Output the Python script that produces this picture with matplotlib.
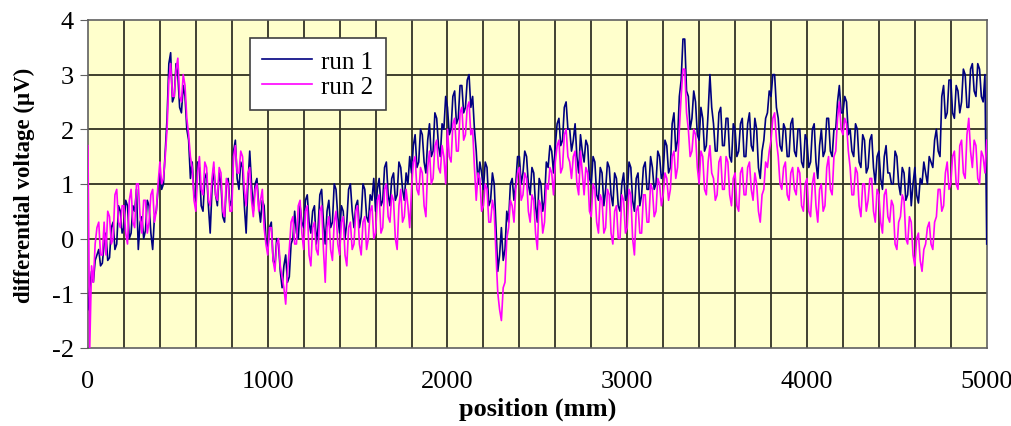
import matplotlib
matplotlib.use('Agg')
import matplotlib.pyplot as plt
import numpy as np

plt.rcParams['font.family'] = ['Liberation Serif', 'DejaVu Serif']
plt.rcParams['axes.unicode_minus'] = False

# DATA (one value every 10 mm, 100 mm per row)

position = np.arange(0, 5001, 10)

run1 = [
    -1.3, -0.9, -0.6, -0.8, -0.4, -0.3, -0.2, -0.5, -0.45, -0.1,
    0.1, -0.4, -0.35, 0.2, 0.3, -0.2, -0.1, 0.6, 0.5, 0.1,
    0.2, 0.7, 0.6, 0.0, 0.1, 0.6, 0.5, 0.9, -0.2, 0.3,
    0.4, 0.0, 0.15, 0.7, 0.6, 0.1, -0.2, 0.4, 0.5, 0.9,
    1.2, 0.9, 1.0, 1.6, 2.2, 3.2, 3.4, 2.5, 2.6, 3.2,
    3.0, 2.4, 2.3, 2.8, 2.6, 2.0, 1.8, 1.1, 1.4, 0.8,
    0.7, 1.4, 1.3, 0.6, 0.5, 1.1, 1.2, 0.6, 0.1, 0.9,
    1.3, 0.8, 0.6, 1.2, 1.0, 0.4, 0.3, 1.0, 1.1, 0.6,
    0.7, 1.6, 1.8, 1.1, 0.9, 1.4, 1.3, 0.6, 0.1, 1.0,
    1.6, 1.0, 0.5, 1.0, 1.1, 0.6, 0.3, 0.7, 0.6, 0.0,
    -0.2, 0.2, 0.3, -0.4, -0.5, 0.0, -0.1, -0.6, -0.9, -0.5,
    -0.3, -0.8, -0.7, -0.1, 0.0, 0.5, 0.1, 0.0, 0.6, 0.3,
    0.2, 0.7, 0.8, 0.3, 0.1, 0.5, 0.6, -0.1, 0.2, 0.8,
    0.9, 0.3, -0.1, 0.5, 0.7, 0.2, 0.3, 1.0, 0.9, 0.4,
    0.1, 0.6, 0.5, 0.0, 0.3, 0.9, 1.0, 0.5, 0.2, 0.6,
    0.7, 0.2, 0.4, 1.0, 0.9, 0.4, 0.3, 0.8, 0.7, 1.1,
    0.5, 0.9, 1.1, 0.6, 0.7, 1.3, 1.4, 0.8, 0.6, 1.1,
    1.2, 0.7, 0.8, 1.4, 1.3, 0.9, 0.7, 1.2, 1.0, 1.5,
    1.2, 1.7, 1.9, 1.3, 1.4, 2.0, 1.9, 1.4, 1.2, 1.8,
    2.1, 1.5, 1.6, 2.3, 2.2, 1.7, 1.5, 2.1, 2.0, 2.6,
    2.4, 1.9, 2.0, 2.6, 2.7, 2.1, 2.2, 2.8, 2.8, 2.3,
    2.4, 2.9, 3.0, 2.4, 2.6, 2.0, 1.6, 1.0, 1.4, 1.2,
    0.9, 1.4, 1.3, 0.6, 0.7, 1.2, 1.0, 0.2, -0.6, -0.3,
    0.2, -0.4, -0.2, 0.5, 0.3, 1.0, 1.1, 0.7, 1.0, 1.5,
    1.5, 1.0, 1.2, 1.6, 1.5, 1.0, 0.8, 1.3, 1.2, 0.6,
    0.3, 1.1, 1.0, 0.5, 0.7, 1.4, 1.3, 1.7, 1.6, 1.2,
    1.7, 2.1, 2.2, 1.7, 1.8, 2.4, 2.5, 2.0, 2.0, 1.6,
    1.8, 2.1, 1.5, 1.2, 1.9, 1.6, 1.4, 1.8, 1.7, 1.1,
    1.0, 1.5, 1.4, 0.8, 0.7, 1.3, 1.2, 0.6, 0.9, 1.4,
    1.3, 0.8, 0.6, 1.2, 1.1, 0.6, 0.5, 1.0, 1.2, 0.7,
    0.8, 1.4, 1.3, 0.7, 0.5, 1.1, 1.2, 0.6, 0.8, 1.3,
    1.4, 0.9, 0.9, 1.5, 1.3, 0.9, 1.0, 1.6, 1.5, 1.1,
    1.2, 1.8, 1.7, 1.2, 1.3, 2.1, 2.3, 1.6, 1.8, 2.6,
    2.9, 3.65, 3.65, 2.7, 2.6, 2.0, 2.2, 2.7, 2.5, 1.9,
    1.8, 2.4, 2.2, 1.6, 1.7, 2.3, 3.0, 2.4, 2.1, 1.6,
    1.6, 2.3, 2.4, 1.7, 1.7, 2.2, 2.2, 1.5, 1.4, 2.1,
    2.0, 1.5, 1.6, 2.1, 2.2, 1.5, 1.5, 2.1, 2.3, 1.7,
    1.6, 2.2, 2.0, 1.3, 1.1, 1.6, 1.8, 2.2, 2.3, 2.7,
    2.6, 3.0, 3.0, 2.4, 2.2, 1.7, 1.6, 2.1, 2.0, 1.5,
    1.5, 2.1, 2.2, 1.6, 1.5, 2.0, 2.0, 1.4, 1.3, 1.9,
    1.8, 1.3, 1.4, 2.0, 2.1, 1.4, 1.1, 1.7, 2.0, 1.5,
    1.6, 2.2, 2.2, 1.6, 1.5, 2.0, 2.0, 2.5, 2.8, 2.3,
    2.3, 2.6, 2.5, 1.9, 2.0, 1.6, 1.5, 2.1, 2.0, 1.4,
    1.3, 1.9, 1.8, 1.2, 1.3, 1.8, 1.9, 1.3, 1.0, 1.5,
    1.6, 1.1, 0.9, 1.5, 1.7, 1.2, 1.2, 1.0, 1.0, 1.6,
    1.5, 1.0, 0.8, 1.3, 1.2, 0.7, 0.8, 1.3, 0.6, 1.0,
    1.3, 0.8, 0.65, 1.1, 1.0, 1.4, 1.2, 1.0, 1.5, 1.4,
    1.3, 1.8, 2.0, 1.6, 1.5, 2.6, 2.8, 2.2, 2.3, 2.9,
    2.9, 2.3, 2.2, 2.8, 2.7, 2.3, 2.5, 3.1, 3.0, 2.4,
    2.4, 3.1, 3.2, 2.7, 2.6, 3.2, 3.1, 2.6, 2.5, 3.0,
    -0.1,
]

run2 = [
    1.7, -2.0, -0.5, -0.8, -0.1, 0.2, 0.3, -0.3, -0.3, 0.3,
    -0.3, 0.5, 0.4, -0.1, 0.0, 0.8, 0.9, 0.3, 0.2, 0.6,
    0.6, 0.1, -0.1, 0.7, 0.9, 0.3, 0.2, 1.0, 1.0, 0.4,
    0.1, 0.7, 0.7, 0.1, 0.3, 0.8, 0.9, 0.3, 0.5, 1.0,
    1.4, 1.0, 1.1, 1.5, 2.0, 2.9, 3.2, 2.6, 2.6, 3.1,
    3.3, 2.6, 2.5, 3.0, 2.8, 2.2, 1.9, 1.5, 1.3, 0.7,
    0.5, 1.2, 1.5, 0.9, 0.8, 1.4, 1.3, 0.7, 0.6, 1.1,
    1.4, 0.8, 0.7, 1.3, 1.2, 0.5, 0.4, 1.1, 1.0, 0.5,
    0.5, 1.5, 1.7, 1.2, 1.2, 1.6, 1.5, 0.9, 0.6, 1.2,
    1.3, 0.7, 0.4, 0.9, 1.0, 0.5, 0.7, 0.9, 0.2, -0.1,
    -0.3, 0.2, 0.2, -0.4, -0.6, -0.1, 0.0, -0.5, -0.7, -0.9,
    -1.2, -0.6, -0.2, 0.3, 0.4, -0.1, -0.1, 0.6, 0.7, 0.1,
    -0.2, 0.5, 0.6, -0.3, -0.5, 0.2, 0.3, -0.2, -0.3, 0.5,
    0.6, -0.2, -0.8, 0.2, 0.4, -0.2, -0.4, 0.3, 0.5, -0.1,
    -0.3, 0.3, 0.4, -0.3, -0.5, 0.2, 0.3, -0.2, -0.1, 0.5,
    0.6, -0.1, -0.3, 0.3, 0.4, -0.2, 0.0, 0.5, 0.6, 0.0,
    0.1, 0.7, 0.8, 0.1, 0.2, 0.9, 1.0, 0.4, 0.3, 0.8,
    0.7, 0.0, -0.2, 0.6, 0.9, 0.3, 0.4, 0.9, 0.6, 0.2,
    0.9, 1.4, 1.5, 0.9, 0.8, 1.3, 1.2, 0.6, 0.4, 1.3,
    1.6, 1.0, 1.1, 1.7, 1.8, 1.3, 1.2, 1.7, 1.5, 1.0,
    2.0, 1.5, 1.4, 2.1, 2.2, 1.6, 1.6, 2.3, 2.4, 1.8,
    1.9, 2.4, 2.5, 1.9, 2.0, 1.3, 0.7, 1.2, 1.1, 0.5,
    0.6, 1.0, 0.9, 0.3, 0.3, 0.7, 0.5, -0.3, -1.0, -1.3,
    -1.5, -0.9, -0.8, 0.0, 0.2, 0.7, 0.6, 0.3, 0.9, 1.2,
    1.3, 0.7, 0.8, 1.2, 1.1, 0.5, 0.3, 0.8, 0.7, 0.1,
    -0.2, 0.7, 0.6, 0.1, 0.3, 1.0, 0.9, 1.3, 1.2, 0.8,
    1.4, 1.7, 1.8, 1.2, 1.3, 1.9, 2.0, 1.5, 1.4, 1.1,
    1.5, 1.6, 1.0, 0.8, 1.6, 1.2, 0.8, 1.3, 1.2, 0.5,
    0.4, 1.0, 0.9, 0.3, 0.1, 0.8, 0.7, 0.1, 0.2, 0.9,
    0.8, 0.1, -0.1, 0.5, 0.6, 0.0, 0.0, 0.8, 0.7, 0.1,
    0.2, 0.9, 0.8, 0.0, -0.3, 0.5, 0.6, 0.1, 0.1, 0.8,
    0.8, 0.3, 0.3, 1.0, 0.9, 0.4, 0.5, 1.1, 1.0, 0.6,
    0.8, 1.2, 1.1, 0.7, 0.9, 1.5, 1.6, 1.1, 1.3, 2.0,
    2.6, 3.1, 3.1, 2.3, 2.0, 1.5, 1.6, 2.0, 1.9, 1.3,
    1.0, 1.6, 1.5, 0.9, 0.8, 1.4, 1.7, 1.2, 1.1, 0.7,
    0.8, 1.4, 1.5, 0.9, 0.9, 1.5, 1.4, 0.8, 0.6, 1.1,
    1.2, 0.6, 0.5, 1.2, 1.3, 0.8, 0.8, 1.3, 1.4, 0.9,
    0.7, 1.2, 1.0, 0.5, 0.3, 0.8, 0.9, 1.4, 1.3, 1.6,
    1.8, 2.2, 2.3, 1.8, 1.5, 1.0, 0.9, 1.3, 1.4, 0.8,
    0.7, 1.2, 1.3, 0.9, 0.8, 1.3, 1.2, 0.6, 0.5, 1.0,
    1.1, 0.5, 0.4, 1.0, 1.2, 0.6, 0.3, 0.9, 1.0, 0.5,
    0.6, 1.3, 1.5, 0.9, 0.8, 1.5, 1.6, 2.2, 2.5, 2.0,
    1.9, 2.2, 2.1, 1.6, 1.3, 0.8, 0.8, 1.3, 1.2, 0.6,
    0.4, 1.0, 1.0, 0.5, 0.7, 1.1, 1.1, 0.5, 0.3, 0.9,
    0.8, 0.3, 0.1, 0.8, 0.9, 0.4, 0.3, 0.7, 0.6, -0.1,
    -0.2, 0.3, 0.4, 0.8, 0.7, 0.0, -0.1, 0.4, 0.3, -0.3,
    -0.5, 0.0, 0.1, -0.4, -0.6, -0.2, -0.1, 0.2, 0.3, -0.1,
    -0.2, 0.3, 0.4, 0.9, 0.9, 0.5, 0.6, 1.2, 1.4, 0.9,
    1.0, 1.5, 1.6, 1.0, 0.9, 1.7, 1.8, 1.2, 1.1, 1.9,
    2.2, 1.6, 1.3, 1.8, 1.7, 1.1, 1.0, 1.6, 1.5, 1.2,
    1.8,
]

fig = plt.figure(figsize=(10.11, 4.27), dpi=100)
ax = fig.add_axes([0.087, 0.183, 0.889, 0.768])

ax.set_facecolor('#FFFFCC')

# gridlines every 200 mm and every 1 uV
for xg in range(200, 5000, 200):
    ax.axvline(xg, color='#202018', linewidth=1.2, zorder=1)
for yg in range(-1, 4):
    ax.axhline(yg, color='#303020', linewidth=1.3, zorder=1)

ax.plot(position, run1, color='#000080', linewidth=1.2, label='run 1', zorder=3)
ax.plot(position, run2, color='#FF00FF', linewidth=1.2, label='run 2', zorder=4)

ax.set_xlim(0, 5000)
ax.set_ylim(-2, 4)
ax.set_xticks([0, 1000, 2000, 3000, 4000, 5000])
ax.set_yticks([-2, -1, 0, 1, 2, 3, 4])
ax.tick_params(axis='x', length=0, labelsize=19, pad=16)
ax.tick_params(axis='y', length=6, labelsize=19, direction='out', color='#606060', pad=4)

for s in ax.spines.values():
    s.set_color('#606060')
    s.set_linewidth(1.2)

ax.set_xlabel('position (mm)', fontsize=19, fontweight='bold', labelpad=3)
ax.set_ylabel('differential voltage (\u00b5V)', fontsize=16.5, fontweight='bold')
ax.yaxis.set_label_coords(-0.059, 0.5)

leg = ax.legend(loc='upper left', bbox_to_anchor=(0.18, 0.945), fontsize=18,
                frameon=True, fancybox=False, handlelength=2.0,
                borderpad=0.5, labelspacing=0.1, handletextpad=0.35,
                borderaxespad=0)
leg.get_frame().set_edgecolor('#404040')
leg.get_frame().set_linewidth(1.2)
leg.get_frame().set_facecolor('white')
leg.get_frame().set_alpha(1)
leg.set_zorder(10)

plt.savefig('out.png', dpi=100)
